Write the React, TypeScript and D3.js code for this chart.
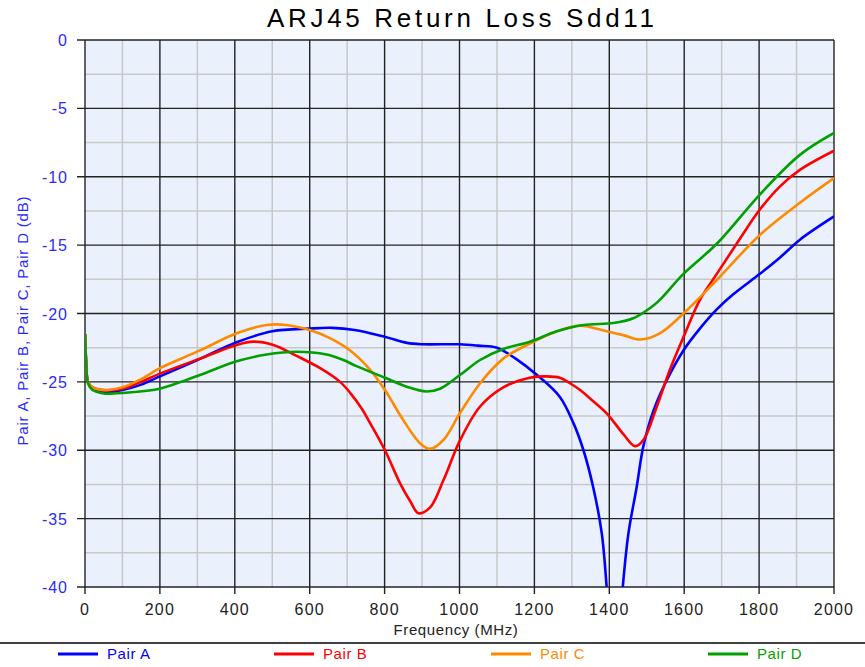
import * as d3 from "d3";

const W = 865;
const H = 667;
const M = { left: 85, right: 834, top: 40, bottom: 587 };

const xTicks = [0, 200, 400, 600, 800, 1000, 1200, 1400, 1600, 1800, 2000];
const yTicks = [0, -5, -10, -15, -20, -25, -30, -35, -40];

const pairAFreq = [0, 3, 8, 20, 50, 100, 150, 200, 300, 405, 500, 600, 660, 720, 800, 860, 900, 1000, 1050, 1100, 1150, 1207, 1268, 1304, 1331, 1357, 1380, 1393, 1415, 1436, 1451, 1473, 1491, 1518, 1553, 1598, 1645, 1687, 1731, 1802, 1856, 1909, 2000];
const pairADb = [-21.5, -23.5, -25.0, -25.5, -25.75, -25.6, -25.2, -24.6, -23.4, -22.1, -21.3, -21.1, -21.05, -21.2, -21.7, -22.15, -22.25, -22.25, -22.35, -22.5, -23.3, -24.5, -26.1, -28.0, -30.0, -32.7, -36.1, -40, -48, -40, -36.1, -32.7, -29.7, -27.1, -24.9, -22.7, -21.0, -19.7, -18.6, -17.1, -15.9, -14.6, -12.9];

const pairBFreq = [0, 3, 8, 20, 50, 100, 150, 200, 307, 405, 449, 503, 565, 628, 681, 708, 740, 761, 801, 841, 870, 890, 921, 957, 1001, 1055, 1117, 1188, 1233, 1268, 1295, 1322, 1348, 1393, 1437, 1469, 1491, 1527, 1562, 1600, 1642, 1687, 1740, 1802, 1856, 1909, 2000];
const pairBDb = [-21.5, -23.5, -25.0, -25.4, -25.6, -25.5, -25.0, -24.4, -23.3, -22.3, -22.06, -22.3, -23.1, -24.0, -25.0, -25.8, -27.0, -28.0, -30.0, -32.4, -33.8, -34.6, -34.2, -32.2, -29.3, -26.8, -25.4, -24.7, -24.6, -24.7, -25.1, -25.6, -26.2, -27.3, -28.8, -29.7, -29.25, -26.8, -24.1, -21.6, -19.0, -17.1, -14.9, -12.4, -10.7, -9.5, -8.1];

const pairCFreq = [0, 3, 8, 20, 50, 100, 150, 200, 307, 405, 485, 538, 610, 654, 708, 761, 801, 850, 895, 921, 957, 1001, 1055, 1117, 1188, 1260, 1320, 1393, 1440, 1482, 1535, 1598, 1687, 1802, 1909, 2000];
const pairCDb = [-21.5, -23.5, -25.0, -25.4, -25.6, -25.4, -24.8, -24.0, -22.7, -21.45, -20.84, -20.84, -21.3, -21.8, -22.7, -24.1, -25.6, -27.8, -29.5, -29.9, -29.25, -27.3, -25.1, -23.3, -22.2, -21.3, -20.9, -21.3, -21.6, -21.9, -21.45, -20.0, -17.55, -14.26, -11.9, -10.1];

const pairDFreq = [0, 3, 8, 20, 50, 75, 147, 200, 307, 405, 485, 565, 645, 690, 725, 801, 859, 912, 948, 1001, 1055, 1117, 1188, 1260, 1331, 1411, 1464, 1509, 1535, 1598, 1687, 1802, 1909, 2000];
const pairDDb = [-21.5, -23.5, -25.1, -25.6, -25.85, -25.85, -25.7, -25.5, -24.5, -23.5, -23.0, -22.8, -23.0, -23.4, -23.85, -24.7, -25.35, -25.7, -25.5, -24.5, -23.4, -22.6, -22.06, -21.3, -20.84, -20.7, -20.35, -19.6, -19.0, -17.1, -14.9, -11.3, -8.4, -6.8];

const seriesNames = ["Pair A", "Pair B", "Pair C", "Pair D"];
const seriesColors = ["#0000ff", "#ff0000", "#ff8a00", "#00a000"];
const seriesFreqs = [pairAFreq, pairBFreq, pairCFreq, pairDFreq];
const seriesDbs = [pairADb, pairBDb, pairCDb, pairDDb];

const legendX = [58, 274, 491, 708];
const font = "'Liberation Sans', Arial, sans-serif";

export default function App() {
  const x = d3.scaleLinear().domain([0, 2000]).range([M.left, M.right]);
  const y = d3.scaleLinear().domain([-40, 0]).range([M.bottom, M.top]);

  const line = d3
    .line<[number, number]>()
    .x((d) => x(d[0]))
    .y((d) => y(d[1]))
    .curve(d3.curveCatmullRom.alpha(0.5));

  const minorX = d3.range(100, 2000, 200);
  const minorY = d3.range(-2.5, -40, -5);

  return (
    <svg
      width={W}
      height={H}
      style={{ position: "absolute", left: 0, top: 0, background: "#fff" }}
      fontFamily={font}
    >
      <defs>
        <clipPath id="plot">
          <rect x={M.left} y={M.top} width={M.right - M.left} height={M.bottom - M.top} />
        </clipPath>
      </defs>
      <text
        x={(M.left + M.right) / 2 + 1}
        y={27}
        textAnchor="middle"
        fontSize={26}
        textLength={387}
        lengthAdjust="spacing"
        fill="#000"
      >
        ARJ45 Return Loss Sdd11
      </text>

      <rect x={M.left} y={M.top} width={M.right - M.left} height={M.bottom - M.top} fill="#eaf1fc" />

      {minorX.map((v) => (
        <line key={"mx" + v} x1={x(v)} x2={x(v)} y1={M.top} y2={M.bottom} stroke="#c8c8c8" strokeWidth={1.5} />
      ))}
      {minorY.map((v) => (
        <line key={"my" + v} x1={M.left} x2={M.right} y1={y(v)} y2={y(v)} stroke="#c8c8c8" strokeWidth={1.5} />
      ))}
      {xTicks.map((v) => (
        <line key={"gx" + v} x1={x(v)} x2={x(v)} y1={M.top} y2={M.bottom + 7} stroke="#222" strokeWidth={1.4} />
      ))}
      {yTicks.map((v) => (
        <line key={"gy" + v} x1={M.left - 8} x2={M.right} y1={y(v)} y2={y(v)} stroke="#222" strokeWidth={1.4} />
      ))}

      <g clipPath="url(#plot)">
        {seriesNames.map((name, i) => {
          const pts: [number, number][] = seriesFreqs[i].map((f, j) => [f, seriesDbs[i][j]]);
          return (
            <path
              key={name}
              d={line(pts)!}
              fill="none"
              stroke={seriesColors[i]}
              strokeWidth={2.6}
              strokeLinejoin="round"
            />
          );
        })}
      </g>

      {xTicks.map((v) => (
        <text key={"tx" + v} x={x(v)} y={615} textAnchor="middle" fontSize={16} letterSpacing={1.2} fill="#222">
          {v}
        </text>
      ))}
      {yTicks.map((v) => (
        <text key={"ty" + v} x={68} y={y(v) + 6} textAnchor="end" fontSize={16} letterSpacing={1} fill="#2a2aff">
          {v}
        </text>
      ))}

      <text x={456} y={635} textAnchor="middle" fontSize={15} letterSpacing={0.6} fill="#222">
        Frequency (MHz)
      </text>
      <text
        transform={`translate(28, 321) rotate(-90)`}
        textAnchor="middle"
        fontSize={15}
        textLength={249}
        lengthAdjust="spacing"
        fill="#2a2aff"
      >
        Pair A, Pair B, Pair C, Pair D (dB)
      </text>

      <line x1={0} x2={W} y1={643} y2={643} stroke="#000" strokeWidth={1.5} />

      {seriesNames.map((name, i) => (
        <g key={"lg" + name}>
          <line x1={legendX[i]} x2={legendX[i] + 40} y1={654} y2={654} stroke={seriesColors[i]} strokeWidth={3} />
          <text x={legendX[i] + 49} y={659} fontSize={15} letterSpacing={0.6} fill={seriesColors[i]}>
            {name}
          </text>
        </g>
      ))}
    </svg>
  );
}
